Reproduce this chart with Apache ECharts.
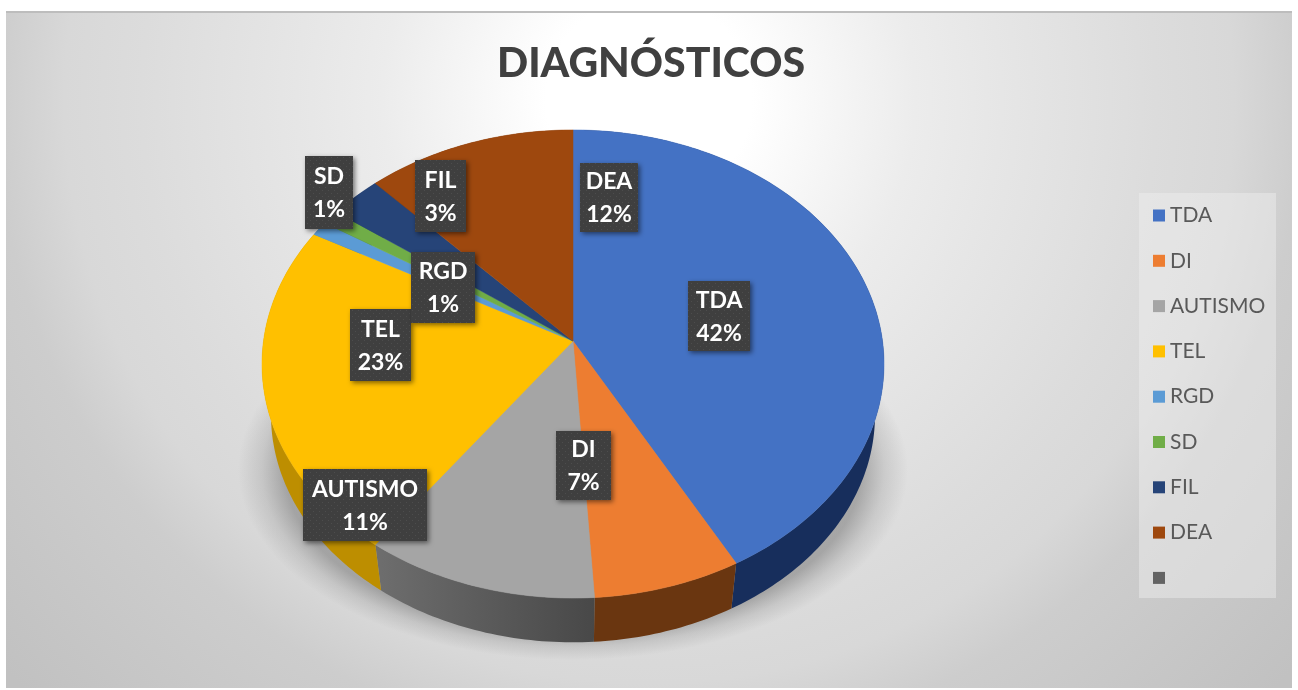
<!DOCTYPE html>
<html>
<head>
<meta charset="utf-8">
<style>html,body{margin:0;padding:0;background:#fff}#c{width:1298px;height:690px}</style>
<script src="https://cdn.jsdelivr.net/npm/echarts@6/dist/echarts.min.js"></script>
</head>
<body>
<div id="c"></div>
<script>
// ---- data ----
const categories = ['TDA', 'DI', 'AUTISMO', 'TEL', 'RGD', 'SD', 'FIL', 'DEA', ' '];
const percentages = [42, 7, 11, 23, 1, 1, 3, 12, null];
const chartTitle = 'DIAGNÓSTICOS';

// ---- styles / layout ----
const topColors = ['#4472c4', '#ed7d31', '#a5a5a5', '#ffc000', '#5b9bd5', '#70ad47', '#264478', '#9e480e', '#636363'];
const wallColors = ['#172e5c', '#6a3610', null, '#bd8e00', '#3a6690', '#4a7330', '#172e5c', '#6a3010', '#444444'];
const labelBoxes = [[688, 281, 62, 70], [556, 431, 55, 69], [303, 469, 124, 72], [350, 309, 61, 72], [411, 252, 64, 71], [305, 156, 48, 73], [415, 160, 51, 72], [580, 163, 58, 69]];
const CX = 573, CY = 341, A = 0.0983, B = 231.8, C = 309.5;
const K = 0.971, OFF = 51.7;

const total = percentages.reduce((s, v) => s + (v || 0), 0);
const starts = [];
percentages.reduce((s, v, i) => { starts[i] = s; return s + (v || 0); }, 0);

function rim(t, bottom) {
  const th = t / total * Math.PI * 2;
  const u = Math.sin(th), v = -Math.cos(th), d = 1 - A * v;
  const X = C * u / d, Y = B * v / d;
  return bottom ? [CX + X * K, CY + Y * K + OFF] : [CX + X, CY + Y];
}
function arc(a, b, bottom) {
  const n = Math.max(2, Math.ceil((b - a) * 3.6)), pts = [];
  for (let i = 0; i <= n; i++) pts.push(rim(a + (b - a) * i / n, bottom));
  return pts;
}
const dots = document.createElement('canvas');
dots.width = dots.height = 6;
(function () {
  const g = dots.getContext('2d');
  g.fillStyle = '#3f3f3f'; g.fillRect(0, 0, 6, 6);
  g.fillStyle = '#4d4d4d'; g.fillRect(1, 1, 1, 1); g.fillRect(4, 4, 1, 1);
})();

function makeRender(i) {
  return function (params, api) {
    const v = api.value(0), s = starts[i], ch = [];
    ch.push({
      type: 'polygon', z2: 2,
      shape: { points: arc(s, s + v, false).concat(arc(s, s + v, true).reverse()) },
      style: {
        fill: i === 2 ? new echarts.graphic.LinearGradient(0, 0, 1, 0, [{ offset: 0, color: '#6e6e6e' }, { offset: 1, color: '#484848' }]) : wallColors[i]
      }
    });
    ch.push({
      type: 'polygon', z2: 5,
      shape: { points: [[CX, CY]].concat(arc(s, s + v, false)) },
      style: { fill: topColors[i], stroke: topColors[i], lineWidth: 0.5 }
    });
    const b = labelBoxes[i];
    ch.push({
      type: 'rect', z2: 20,
      shape: { x: b[0], y: b[1], width: b[2], height: b[3] },
      style: { fill: { image: dots, repeat: 'repeat' }, shadowBlur: 5, shadowOffsetX: 2, shadowOffsetY: 2, shadowColor: 'rgba(0,0,0,0.5)' }
    });
    ch.push({
      type: 'text', z2: 21,
      x: b[0] + b[2] / 2, y: b[1] + b[3] / 2 + 1,
      style: {
        text: categories[i] + '\n' + v + '%', fill: '#fff', align: 'center', verticalAlign: 'middle',
        font: 'bold 23px Lato', lineHeight: 33
      }
    });
    return { type: 'group', children: ch };
  };
}

const series = categories.map((name, i) => ({
  type: 'custom', name: name, coordinateSystem: 'none', silent: true,
  itemStyle: { color: topColors[i] },
  data: percentages[i] === null ? [] : [[percentages[i]]],
  renderItem: makeRender(i)
}));

const chart = echarts.init(document.getElementById('c'), null, { renderer: 'canvas' });
chart.setOption({
  animation: false,
  color: topColors,
  tooltip: { show: false },
  title: {
    text: chartTitle, left: 646, top: 38, textAlign: 'center',
    textStyle: { fontFamily: 'Lato', fontWeight: 900, fontSize: 41, color: '#404040' }
  },
  legend: {
    orient: 'vertical', left: 1153, top: 205, padding: 0, selectedMode: false,
    itemWidth: 12, itemHeight: 12, itemGap: 24.3, icon: 'rect',
    data: categories.map(n => ({ name: n })),
    textStyle: { fontFamily: 'Lato', fontSize: 21, color: '#595959', lineHeight: 21, padding: [0, 0, 0, 0] }
  },
  graphic: { elements: [
    { type: 'rect', z: -30, silent: true, shape: { x: 6, y: 11, width: 1286, height: 677 },
      style: { fill: new echarts.graphic.RadialGradient(0.5, 0.13, 1.27, [
        { offset: 0, color: '#ffffff' }, { offset: 0.12, color: '#ffffff' }, { offset: 0.31, color: '#ececec' },
        { offset: 0.41, color: '#e6e6e6' }, { offset: 0.59, color: '#dcdcdc' }, { offset: 0.68, color: '#d8d8d8' },
        { offset: 0.76, color: '#cdcdcd' }, { offset: 1, color: '#c1c1c1' }]) } },
    { type: 'rect', z: -29, silent: true, shape: { x: 6, y: 11, width: 1286, height: 2 }, style: { fill: '#bdbdbd' } },
    { type: 'group', z: -20, silent: true, x: 573, y: 470, scaleY: 190 / 335, children: [
      { type: 'circle', shape: { cx: 0, cy: 0, r: 335 }, style: { fill: new echarts.graphic.RadialGradient(0.5, 0.5, 0.5, [
        { offset: 0, color: 'rgba(110,110,110,0.5)' }, { offset: 0.86, color: 'rgba(110,110,110,0.5)' },
        { offset: 0.93, color: 'rgba(120,120,120,0.2)' }, { offset: 1, color: 'rgba(120,120,120,0)' }]) } }
    ] },
    { type: 'rect', z: -10, silent: true, shape: { x: 1139, y: 193, width: 137, height: 405 }, style: { fill: 'rgba(240,240,240,0.45)' } }
  ] },
  series: series
});
</script>
</body>
</html>
